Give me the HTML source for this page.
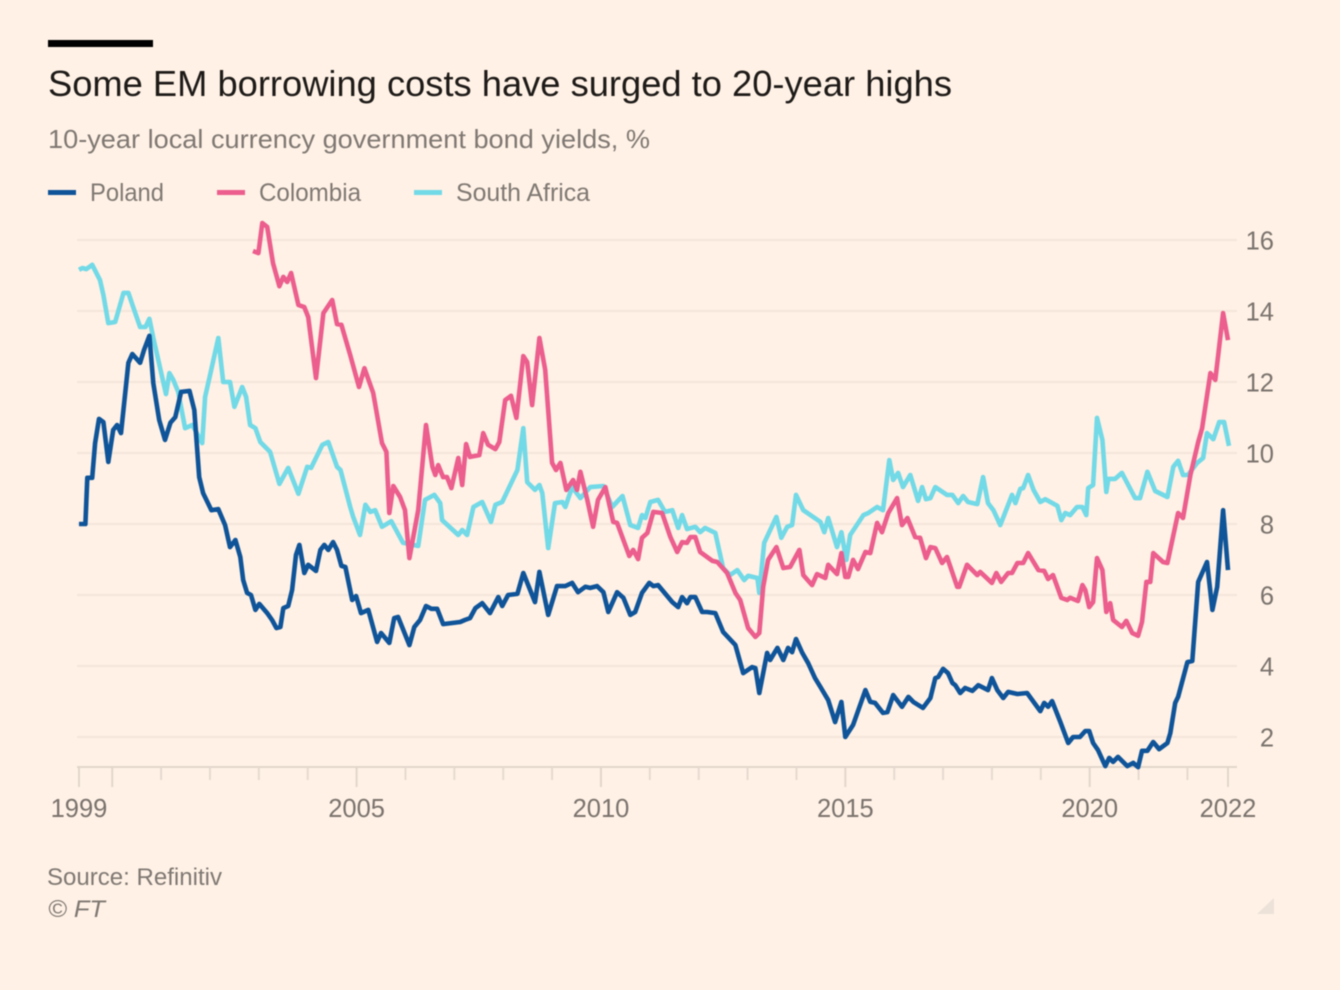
<!DOCTYPE html>
<html lang="en">
<head>
<meta charset="utf-8">
<title>Some EM borrowing costs have surged to 20-year highs</title>
<style>
html,body{margin:0;padding:0;background:#fff1e5;}
body{width:1340px;height:990px;overflow:hidden;}
svg{display:block;font-family:"Liberation Sans",sans-serif;filter:blur(0.45px);}
</style>
</head>
<body>
<svg id="chart" width="1340" height="990" viewBox="0 0 1340 990" xmlns="http://www.w3.org/2000/svg">
  <rect x="0" y="0" width="1340" height="990" fill="#fff1e5"/>
  <rect x="48" y="40" width="105" height="7" fill="#000"/>
  <text x="48" y="96" font-size="36" fill="#1d1a18" textLength="904" lengthAdjust="spacingAndGlyphs">Some EM borrowing costs have surged to 20-year highs</text>
  <text x="48" y="148" font-size="26" fill="#7f7873" textLength="602" lengthAdjust="spacingAndGlyphs">10-year local currency government bond yields, %</text>

  <rect x="48" y="190" width="28" height="5" fill="#0f5499"/>
  <text x="90" y="201" font-size="25" fill="#7f7873" textLength="74" lengthAdjust="spacingAndGlyphs">Poland</text>
  <rect x="217" y="190" width="28" height="5" fill="#eb5e8d"/>
  <text x="259" y="201" font-size="25" fill="#7f7873" textLength="102" lengthAdjust="spacingAndGlyphs">Colombia</text>
  <rect x="414" y="190" width="28" height="5" fill="#72d9e7"/>
  <text x="456" y="201" font-size="25" fill="#7f7873" textLength="134" lengthAdjust="spacingAndGlyphs">South Africa</text>

  <g id="grid"></g>
  <g id="yLabels"></g>
  <g id="xAxis"></g>
  <g id="lines"></g>

  <text x="47" y="885" font-size="24" fill="#7f7873" textLength="175" lengthAdjust="spacingAndGlyphs">Source: Refinitiv</text>
  <text x="48" y="917" font-size="24" font-style="italic" fill="#7f7873" textLength="57" lengthAdjust="spacingAndGlyphs">© FT</text>
  <polygon points="1257,914 1274,914 1274,898" fill="#ece2d9"/>
</svg>
<script>
var yTicks = [2, 4, 6, 8, 10, 12, 14, 16];
var minorTickYears = [2001, 2002, 2003, 2004, 2006, 2007, 2008, 2009, 2011, 2012, 2013, 2014, 2016, 2017, 2018, 2019, 2021, 2022];
var majorTickYears = [1999.32, 2000, 2005, 2010, 2015, 2020, 2022.83];
var xLabelYears = [1999.32, 2005, 2010, 2015, 2020, 2022.83];
var xLabels = ['1999', '2005', '2010', '2015', '2020', '2022'];

var southAfricaYears = [1999.32,1999.39,1999.47,1999.59,1999.75,1999.82,1999.92,2000.06,2000.23,2000.33,
2000.43,2000.57,2000.68,2000.76,2000.84,2001.10,2001.17,2001.25,2001.35,2001.49,
2001.64,2001.84,2001.90,2002.01,2002.17,2002.27,2002.41,2002.50,2002.66,2002.74,
2002.82,2002.93,2003.03,2003.23,2003.42,2003.60,2003.81,2003.99,2004.07,2004.30,
2004.42,2004.60,2004.67,2004.87,2004.93,2005.07,2005.18,2005.28,2005.38,2005.52,
2005.71,2005.95,2006.26,2006.40,2006.59,2006.71,2006.75,2007.08,2007.16,2007.26,
2007.39,2007.57,2007.75,2007.84,2007.98,2008.29,2008.41,2008.49,2008.65,2008.74,
2008.80,2008.92,2009.06,2009.21,2009.27,2009.41,2009.58,2009.78,2010.05,2010.23,
2010.44,2010.60,2010.76,2010.84,2010.91,2011.01,2011.17,2011.31,2011.46,2011.58,
2011.66,2011.76,2011.93,2012.03,2012.13,2012.34,2012.50,2012.64,2012.79,2012.93,
2013.01,2013.20,2013.24,2013.34,2013.59,2013.69,2013.81,2013.91,2013.99,2014.14,
2014.49,2014.57,2014.65,2014.83,2014.92,2015.02,2015.10,2015.37,2015.47,2015.65,
2015.77,2015.90,2015.98,2016.08,2016.18,2016.33,2016.49,2016.57,2016.65,2016.74,
2016.84,2017.08,2017.19,2017.31,2017.41,2017.51,2017.70,2017.82,2017.92,2018.03,
2018.17,2018.41,2018.48,2018.58,2018.64,2018.74,2018.85,2018.99,2019.09,2019.34,
2019.42,2019.50,2019.60,2019.74,2019.85,2019.93,2019.97,2020.07,2020.15,2020.26,
2020.34,2020.38,2020.52,2020.66,2020.93,2021.03,2021.18,2021.34,2021.59,2021.71,
2021.81,2021.91,2022.01,2022.20,2022.32,2022.40,2022.53,2022.65,2022.75,2022.85];
var southAfricaValues = [15.16,15.21,15.18,15.30,14.87,14.45,13.66,13.69,14.51,14.51,
14.11,13.55,13.55,13.78,13.24,11.66,12.25,12.06,11.72,10.70,
10.79,10.28,11.58,12.25,13.24,12.00,12.00,11.30,11.86,11.58,
10.79,10.70,10.31,10.03,9.13,9.58,8.85,9.61,9.58,10.23,
10.31,9.61,9.52,8.48,8.20,7.69,8.54,8.34,8.39,7.92,
8.08,7.47,7.38,8.68,8.82,8.59,8.11,7.69,7.83,7.69,
8.48,8.62,8.06,8.54,8.62,9.52,10.70,9.18,8.96,9.10,
8.87,7.32,8.59,8.62,8.48,9.04,8.73,9.04,9.07,8.48,
8.79,7.97,7.89,8.25,8.17,8.62,8.68,8.34,8.39,7.89,
8.25,7.86,7.92,7.77,7.89,7.75,6.76,6.56,6.70,6.42,
6.54,6.48,6.06,7.47,8.20,7.61,7.92,7.97,8.82,8.39,
8.06,7.77,8.17,7.35,7.77,6.99,7.69,8.25,8.31,8.48,
8.39,9.80,9.24,9.44,9.04,9.38,8.65,9.04,8.70,8.73,
9.04,8.82,8.82,8.59,8.79,8.62,8.56,9.32,8.59,8.39,
7.97,8.82,8.59,8.99,9.01,9.38,8.96,8.62,8.70,8.51,
8.11,8.31,8.25,8.48,8.48,8.25,9.01,9.10,10.99,10.37,
8.90,9.27,9.27,9.44,8.73,8.73,9.47,8.93,8.76,9.61,
9.78,9.38,9.38,9.72,9.86,10.56,10.39,10.87,10.87,10.20];

var colombiaYears = [2002.88,2002.99,2003.07,2003.17,2003.29,2003.42,2003.50,2003.58,2003.66,2003.81,
2003.93,2004.01,2004.17,2004.32,2004.50,2004.60,2004.69,2004.87,2005.05,2005.16,
2005.34,2005.52,2005.61,2005.67,2005.75,2005.89,2005.99,2006.08,2006.26,2006.42,
2006.55,2006.61,2006.67,2006.77,2006.85,2006.94,2007.08,2007.16,2007.24,2007.32,
2007.51,2007.59,2007.69,2007.84,2007.92,2008.04,2008.16,2008.27,2008.41,2008.49,
2008.59,2008.74,2008.86,2009.00,2009.08,2009.17,2009.29,2009.43,2009.51,2009.58,
2009.72,2009.84,2009.94,2010.09,2010.25,2010.33,2010.58,2010.66,2010.76,2010.84,
2010.95,2011.07,2011.25,2011.42,2011.56,2011.66,2011.76,2011.83,2011.93,2012.03,
2012.28,2012.38,2012.58,2012.75,2012.85,2013.01,2013.16,2013.24,2013.32,2013.42,
2013.59,2013.73,2013.87,2014.06,2014.14,2014.32,2014.42,2014.59,2014.65,2014.83,
2014.92,2015.00,2015.06,2015.16,2015.26,2015.41,2015.51,2015.65,2015.75,2015.88,
2016.06,2016.16,2016.27,2016.43,2016.53,2016.65,2016.74,2016.84,2016.98,2017.08,
2017.29,2017.33,2017.49,2017.70,2017.76,2018.00,2018.09,2018.19,2018.33,2018.41,
2018.52,2018.64,2018.74,2018.95,2019.07,2019.15,2019.25,2019.42,2019.54,2019.60,
2019.76,2019.85,2019.91,2019.99,2020.07,2020.15,2020.26,2020.34,2020.42,2020.48,
2020.66,2020.75,2020.87,2020.99,2021.07,2021.16,2021.24,2021.30,2021.50,2021.59,
2021.81,2021.91,2022.06,2022.22,2022.30,2022.47,2022.57,2022.73,2022.83];
var colombiaValues = [15.69,15.63,16.48,16.37,15.35,14.70,14.96,14.82,15.07,14.17,
14.11,13.83,12.11,13.94,14.31,13.63,13.61,12.76,11.86,12.39,
11.69,10.28,10.03,8.31,9.07,8.76,8.39,7.04,8.39,10.79,
9.61,9.38,9.66,9.32,9.32,9.01,9.86,9.10,10.25,9.89,
9.94,10.56,10.23,10.11,10.31,11.49,11.61,10.99,12.73,12.56,
11.35,13.24,12.34,9.72,9.52,9.72,8.96,9.24,8.96,9.47,
8.68,7.92,8.68,9.04,8.06,8.03,7.10,7.27,7.01,7.61,
7.75,8.34,8.31,7.63,7.21,7.49,7.47,7.63,7.63,7.21,
6.96,6.93,6.62,6.06,5.86,5.07,4.82,4.93,6.23,6.99,
7.35,6.76,6.79,7.27,6.56,6.28,6.59,6.48,6.85,6.59,
7.18,6.51,6.51,6.99,6.73,7.21,7.18,8.03,7.77,8.31,
8.73,7.97,8.17,7.63,7.61,7.04,7.35,7.32,6.90,7.07,
6.23,6.23,6.85,6.56,6.65,6.34,6.62,6.37,6.62,6.62,
6.90,6.90,7.18,6.70,6.68,6.45,6.56,5.92,5.86,5.92,
5.83,6.28,6.14,5.66,5.80,7.04,6.70,5.52,5.77,5.30,
5.10,5.27,4.93,4.85,5.24,6.37,6.37,7.18,6.93,6.90,
8.31,8.17,9.38,10.31,10.70,12.25,12.06,13.94,13.18];

var polandYears = [1999.32,1999.45,1999.49,1999.59,1999.65,1999.73,1999.82,1999.92,2000.02,2000.10,
2000.18,2000.33,2000.41,2000.57,2000.65,2000.76,2000.84,2000.96,2001.08,2001.19,
2001.29,2001.41,2001.58,2001.68,2001.78,2001.86,2002.03,2002.17,2002.31,2002.41,
2002.52,2002.62,2002.68,2002.76,2002.84,2002.93,2003.01,2003.17,2003.27,2003.36,
2003.44,2003.50,2003.60,2003.68,2003.76,2003.83,2003.93,2004.01,2004.17,2004.26,
2004.34,2004.42,2004.52,2004.60,2004.69,2004.77,2004.91,2004.99,2005.09,2005.24,
2005.42,2005.50,2005.67,2005.77,2005.85,2006.08,2006.18,2006.30,2006.42,2006.53,
2006.65,2006.77,2007.12,2007.22,2007.32,2007.43,2007.57,2007.73,2007.90,2007.98,
2008.10,2008.29,2008.41,2008.65,2008.74,2008.92,2009.10,2009.27,2009.41,2009.53,
2009.68,2009.78,2009.92,2010.05,2010.15,2010.33,2010.46,2010.60,2010.70,2010.84,
2010.99,2011.07,2011.17,2011.46,2011.58,2011.66,2011.76,2011.83,2011.93,2012.07,
2012.17,2012.34,2012.50,2012.75,2012.91,2013.09,2013.16,2013.24,2013.40,2013.46,
2013.61,2013.73,2013.83,2013.91,2013.99,2014.12,2014.24,2014.38,2014.49,2014.65,
2014.79,2014.92,2015.00,2015.16,2015.41,2015.51,2015.61,2015.77,2015.86,2015.98,
2016.16,2016.29,2016.39,2016.59,2016.74,2016.84,2016.90,2017.00,2017.10,2017.19,
2017.25,2017.35,2017.45,2017.60,2017.72,2017.92,2018.00,2018.11,2018.23,2018.33,
2018.52,2018.72,2018.99,2019.07,2019.15,2019.23,2019.40,2019.56,2019.66,2019.80,
2019.91,2019.99,2020.07,2020.17,2020.32,2020.40,2020.48,2020.58,2020.77,2020.89,
2020.99,2021.07,2021.18,2021.30,2021.42,2021.59,2021.65,2021.75,2021.81,2022.00,
2022.10,2022.22,2022.40,2022.51,2022.61,2022.73,2022.83];
var polandValues = [8.00,8.00,9.30,9.30,10.28,10.96,10.87,9.75,10.65,10.79,
10.56,12.54,12.79,12.54,12.90,13.30,11.97,10.93,10.37,10.85,
11.01,11.72,11.75,11.21,9.32,8.87,8.39,8.42,7.97,7.35,
7.55,7.07,6.42,6.06,6.00,5.58,5.75,5.49,5.30,5.07,
5.10,5.63,5.69,6.14,7.13,7.41,6.62,6.85,6.68,7.27,
7.41,7.27,7.49,7.27,6.82,6.79,5.86,5.97,5.49,5.58,
4.68,4.93,4.65,5.35,5.38,4.59,5.10,5.30,5.69,5.61,
5.61,5.18,5.24,5.30,5.35,5.63,5.77,5.49,5.94,5.69,
6.00,6.03,6.62,5.80,6.65,5.44,6.25,6.25,6.34,6.08,
6.23,6.20,6.25,6.08,5.52,6.08,5.92,5.44,5.52,6.06,
6.34,6.25,6.28,5.80,5.66,5.94,5.77,5.94,5.94,5.52,
5.52,5.49,4.96,4.59,3.80,3.97,3.94,3.24,4.37,4.17,
4.51,4.17,4.51,4.39,4.76,4.37,4.08,3.66,3.41,3.04,
2.42,2.99,2.00,2.34,3.32,2.99,2.96,2.68,2.70,3.18,
2.85,3.13,2.99,2.82,3.10,3.66,3.69,3.92,3.80,3.52,
3.46,3.24,3.38,3.30,3.46,3.32,3.66,3.32,3.10,3.27,
3.21,3.24,2.73,2.96,2.85,3.01,2.42,1.83,2.00,2.00,
2.17,2.17,1.83,1.63,1.18,1.41,1.30,1.44,1.18,1.27,
1.15,1.61,1.61,1.86,1.66,1.83,2.11,2.96,3.13,4.11,
4.14,6.37,6.93,5.58,6.23,8.39,6.70];

var SVGNS = 'http://www.w3.org/2000/svg';
function xScale(year) { return 79 + (year - 1999.32) * (1228 - 79) / (2022.83 - 1999.32); }
function yScale(value) { return 737 - (value - 2) * 35.5; }
function make(tag, parent, attrs) {
  var el = document.createElementNS(SVGNS, tag);
  for (var k in attrs) { el.setAttribute(k, attrs[k]); }
  parent.appendChild(el);
  return el;
}

var grid = document.getElementById('grid');
var yLabelsGroup = document.getElementById('yLabels');
yTicks.forEach(function (t) {
  var line = make('line', grid, {x1: 77, x2: 1237, y1: yScale(t), y2: yScale(t), stroke: '#f4e6da', 'stroke-width': 2});
  
  
  var label = make('text', yLabelsGroup, {x: 1274, y: yScale(t) + 9.5, 'text-anchor': 'end', 'font-size': 25.5, fill: '#7a736e'});
  label.textContent = String(t);
  
  
});

var xAxis = document.getElementById('xAxis');
var baseline = make('line', xAxis, {x1: 77, x2: 1237, y1: 767, y2: 767, stroke: '#e2d6cc', 'stroke-width': 2});


minorTickYears.forEach(function (yr) {
  var tick = make('line', xAxis, {x1: xScale(yr), x2: xScale(yr), y1: 767, y2: 780, stroke: '#e6dad0', 'stroke-width': 2});
  
  
});
majorTickYears.forEach(function (yr) {
  var tick = make('line', xAxis, {x1: xScale(yr), x2: xScale(yr), y1: 767, y2: 787, stroke: '#e2d6cc', 'stroke-width': 2});
  
  
});
xLabels.forEach(function (text, i) {
  var label = make('text', xAxis, {x: xScale(xLabelYears[i]), y: 817, 'text-anchor': 'middle', 'font-size': 25.5, fill: '#7a736e'});
  label.textContent = text;
  
  
});

function drawSeries(name, years, values, color, width) {
  var pts = [];
  for (var i = 0; i < years.length && i < values.length; i++) {
    pts.push(xScale(years[i]).toFixed(1) + ',' + yScale(values[i]).toFixed(1));
  }
  var line = make('polyline', document.getElementById('lines'), {points: pts.join(' '), fill: 'none', stroke: color, 'stroke-width': width, 'stroke-linejoin': 'round'});
  
  
}
drawSeries('south-africa', southAfricaYears, southAfricaValues, '#72d9e7', 4.6);
drawSeries('colombia', colombiaYears, colombiaValues, '#eb5e8d', 4.6);
drawSeries('poland', polandYears, polandValues, '#0f5499', 4.6);
</script>
</body>
</html>
